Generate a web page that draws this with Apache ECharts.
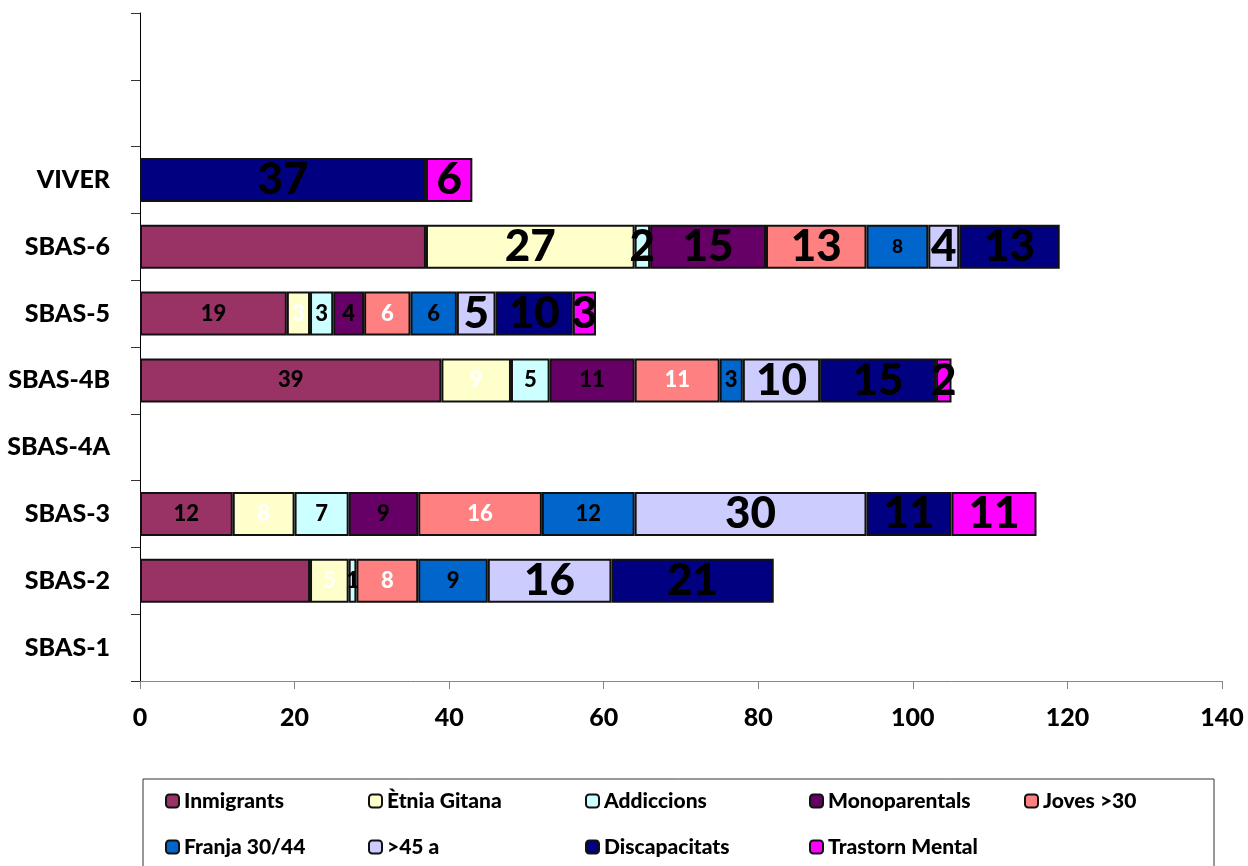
<!DOCTYPE html>
<html lang="ca">
<head>
    <meta charset="UTF-8">
    <title>SBAS</title>
    <script src="https://cdn.jsdelivr.net/npm/echarts@6/dist/echarts.min.js"></script>
<style>
    body{margin:0;background:#fff;}
    #grafic{
        width: 1248px;
        height: 866px;
    }
</style>
</head>
<body>
<div id="grafic"></div>
<script>
    // categories (bottom to top), last two are empty rows
    var categories = ['SBAS-1', 'SBAS-2', 'SBAS-3', 'SBAS-4A', 'SBAS-4B', 'SBAS-5', 'SBAS-6', 'VIVER', ' ', '  '];
    var xTicks = [0, 20, 40, 60, 80, 100, 120, 140];

    var inmigrants    = [null, 22, 12, null, 39, 19, 37, null];
    var etniaGitana   = [null, 5, 8, null, 9, 3, 27, null];
    var addiccions    = [null, 1, 7, null, 5, 3, 2, null];
    var monoparentals = [null, null, 9, null, 11, 4, 15, null];
    var joves         = [null, 8, 16, null, 11, 6, 13, null];
    var franja        = [null, 9, 12, null, 3, 6, 8, null];
    var mes45         = [null, 16, 30, null, 10, 5, 4, null];
    var discapacitats = [null, 21, 11, null, 15, 10, 13, 37];
    var trastorn      = [null, null, 11, null, 2, 3, null, 6];

    var nomsSeries = ['Inmigrants', 'Ètnia Gitana', 'Addiccions', 'Monoparentals', 'Joves >30',
        'Franja 30/44', '>45 a', 'Discapacitats', 'Trastorn Mental'];
    var valors = [inmigrants, etniaGitana, addiccions, monoparentals, joves, franja, mes45, discapacitats, trastorn];
    var colors = ['#993366', '#FFFFCC', '#CCFFFF', '#660066', '#FF8080', '#0066CC', '#CCCCFF', '#000080', '#FF00FF'];

    // legend column widths (text box), like the excel legend
    var ampladesLlegenda = [164, 178, 185, 176, 171, 164, 178, 185, 171];

    // label look per series: small / big / white
    var estilSerie = ['small', 'white', 'small', 'small', 'white', 'small', 'big', 'big', 'big'];
    function estilEtiqueta(s, cat) {
        if (s === 0 && (cat === 'SBAS-2' || cat === 'SBAS-6')) return 'none';
        if (cat === 'SBAS-6') return s === 5 ? 'tiny' : 'big';
        return estilSerie[s];
    }
    var estils = {
        small: {show: true, fontSize: 22, color: '#000'},
        white: {show: true, fontSize: 22, color: '#fff'},
        tiny: {show: true, fontSize: 19, color: '#000'},
        big: {show: true, fontSize: 44, color: '#000'},
        none: {show: false}
    };

    function grafic() {
        var chart = echarts.init(document.getElementById('grafic'));
        var series = nomsSeries.map(function (nom, s) {
            return {
                name: nom,
                type: 'bar',
                stack: 'total',
                barWidth: 44,
                itemStyle: {color: colors[s], borderColor: '#111', borderWidth: 2},
                data: valors[s].map(function (v, i) {
                    var e = estils[estilEtiqueta(s, categories[i])];
                    return {
                        value: v,
                        label: {
                            show: e.show,
                            position: 'inside',
                            fontSize: e.fontSize,
                            color: e.color,
                            fontWeight: 900,
                            fontFamily: 'Lato'
                        }
                    };
                })
            };
        });
        var option = {
            animation: false,
            backgroundColor: '#fff',
            textStyle: {fontFamily: 'Lato'},
            grid: {left: 140, right: 26, top: 13, bottom: 185},
            legend: {
                data: nomsSeries.map(function (nom, i) {
                    return {name: nom, textStyle: {width: ampladesLlegenda[i]}};
                }),
                left: 143,
                top: 779,
                width: 1100,
                padding: [9, 0, 60, 22],
                itemGap: 20,
                itemWidth: 13,
                itemHeight: 13,
                borderColor: '#333',
                borderWidth: 1,
                selectedMode: false,
                textStyle: {fontSize: 21, fontWeight: 900, color: '#000', lineHeight: 26}
            },
            xAxis: {
                type: 'value',
                min: xTicks[0],
                max: xTicks[xTicks.length - 1],
                interval: 20,
                splitLine: {show: false},
                axisLine: {show: true, lineStyle: {color: '#868686'}},
                axisTick: {show: true, length: 8, lineStyle: {color: '#868686'}},
                axisLabel: {fontSize: 25, fontWeight: 900, color: '#000', margin: 24}
            },
            yAxis: {
                type: 'category',
                data: categories,
                axisLine: {show: true, lineStyle: {color: '#000'}},
                axisTick: {show: true, length: 9, lineStyle: {color: '#333'}},
                axisLabel: {fontSize: 25, fontWeight: 900, color: '#000', margin: 30}
            },
            series: series
        };
        chart.setOption(option);
    }

    grafic();
</script>
</body>
</html>
